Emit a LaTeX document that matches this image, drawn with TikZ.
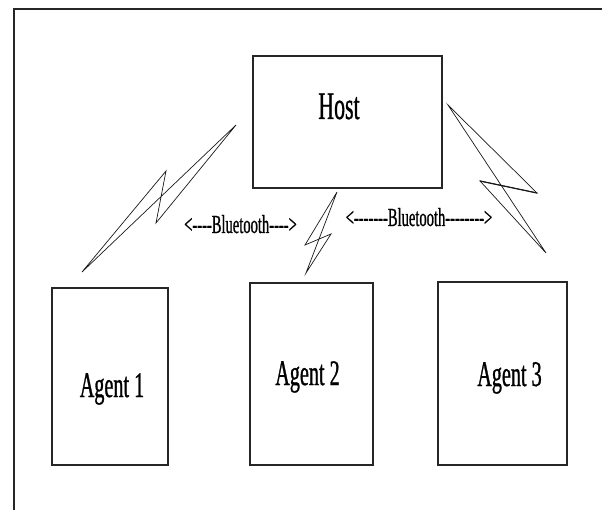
\documentclass[tikz,border=0pt]{standalone}
\usepackage{fontspec}
\setmainfont{Liberation Serif}
\newfontfamily\tallserif[FakeStretch=0.56, FakeBold=0.8]{Liberation Serif}

\begin{document}
\begin{tikzpicture}[x=1pt, y=-1pt,
    box/.style={draw=black!85, line width=1.2pt, inner sep=0pt},
    lbl/.style={anchor=base, inner sep=0pt, font=\tallserif\fontsize{#1}{#1}\selectfont},
    bolt/.style={draw=black!90, line width=0.7pt}]
    \useasboundingbox (0, 0) rectangle (602, 510);
    \draw [line width=1.2pt, black!85] (14, 510) -- (14, 9) -- (602, 9);

    \node [box, minimum width=189pt, minimum height=132pt] (host) at (347.5, 122) {};
    \node [box, minimum width=116pt, minimum height=177pt] (agentA) at (110, 376.5) {};
    \node [box, minimum width=123pt, minimum height=182pt] (agentB) at (311.5, 374) {};
    \node [box, minimum width=129pt, minimum height=183pt] (agentC) at (502.5, 373.5) {};

    \node [lbl=39] (hostlbl) at (339, 119) {Host};
    \node [lbl=36] (agentAlbl) at (112, 397) {Agent 1};
    \node [lbl=36] (agentBlbl) at (307.5, 385) {Agent 2};
    \node [lbl=36] (agentClbl) at (509.5, 386) {Agent 3};

    \node [lbl=26] (btleft) at (240.5, 233) {<----Bluetooth---->};
    \node [lbl=26] (btright) at (419, 226) {<-------Bluetooth-------->};

    \draw [bolt] (236, 125) -- (156, 223) -- (166, 171) -- (82, 272) -- cycle;
    \draw [bolt] (337, 192) -- (305, 245) -- (331, 234) -- (306, 273) -- cycle;
    \draw [bolt] (448, 105) -- (537, 193) -- (480, 181) -- (546, 253) -- cycle;
    \draw [bolt, line width=1.2pt] (537, 193) -- (480, 181);
\end{tikzpicture}
\end{document}
